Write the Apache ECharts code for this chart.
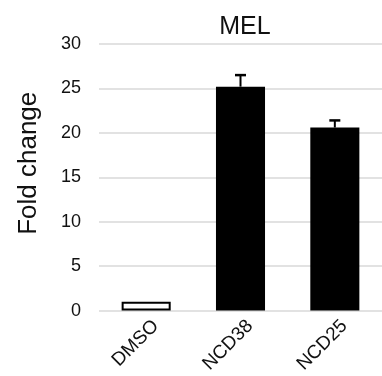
<!DOCTYPE html>
<html>
<head>
<meta charset="utf-8">
<script src="https://cdn.jsdelivr.net/npm/echarts@6/dist/echarts.min.js"></script>
<style>
html,body{margin:0;padding:0;background:#fff;}
#c{width:382px;height:376px;}
</style>
</head>
<body>
<div id="c"></div>
<script>
const categories = ["DMSO", "NCD38", "NCD25"];
const values = [1.0, 25.2, 20.6];
const errors = [0, 1.3, 0.8];
const yTicks = [0, 5, 10, 15, 20, 25, 30];
const titleText = "MEL";
const yAxisName = "Fold change";

const FONT = "Liberation Sans, Arial, Helvetica, sans-serif";
const chart = echarts.init(document.getElementById('c'), null, {renderer: 'canvas'});

const barData = values.map((v, i) => ({
  value: v,
  itemStyle: i === 0
    ? {color: '#ffffff', borderColor: '#000', borderWidth: 2}
    : {color: '#000000', borderColor: '#000', borderWidth: 0}
}));

const errData = values.map((v, i) => [i, v, errors[i]]);

chart.setOption({
  animation: false,
  backgroundColor: '#ffffff',
  title: {
    text: titleText,
    left: 240, top: 10,
    textAlign: 'center',
    textStyle: {fontFamily: FONT, fontSize: 25, fontWeight: 'normal', color: '#111'}
  },
  grid: {left: 99, width: 285, top: 44, bottom: 64, containLabel: false},
  xAxis: {
    type: 'category',
    data: categories,
    axisLine: {show: false},
    axisTick: {show: false},
    axisLabel: {rotate: 45, margin: 3, verticalAlign: 'top', padding: [4, 0, 0, 0], fontFamily: FONT, fontSize: 19, color: '#111'}
  },
  yAxis: {
    type: 'value',
    min: yTicks[0], max: yTicks[yTicks.length - 1], interval: 5,
    name: yAxisName,
    nameLocation: 'middle',
    nameRotate: 90,
    nameGap: 57,
    nameTextStyle: {fontFamily: FONT, fontSize: 26, color: '#111', padding: [0, 0, 0, 28]},
    axisLine: {show: false},
    axisTick: {show: false},
    axisLabel: {margin: 18, fontFamily: FONT, fontSize: 18, color: '#111'},
    splitLine: {show: true, lineStyle: {color: '#d9d9d9', width: 1.5}}
  },
  series: [
    {
      type: 'bar',
      data: barData,
      barCategoryGap: '48%',
      z: 2
    },
    {
      type: 'custom',
      data: errData,
      z: 3,
      renderItem: function (params, api) {
        const i = api.value(0), v = api.value(1), e = api.value(2);
        if (!e) return null;
        const base = api.coord([i, v]);
        const top = api.coord([i, v + e]);
        const hw = 5.5;
        return {
          type: 'group',
          children: [
            {type: 'line', shape: {x1: base[0], y1: base[1], x2: top[0], y2: top[1]},
             style: {stroke: '#000', lineWidth: 2}},
            {type: 'line', shape: {x1: top[0] - hw, y1: top[1], x2: top[0] + hw, y2: top[1]},
             style: {stroke: '#000', lineWidth: 2.5}}
          ]
        };
      }
    }
  ]
});
</script>
</body>
</html>
